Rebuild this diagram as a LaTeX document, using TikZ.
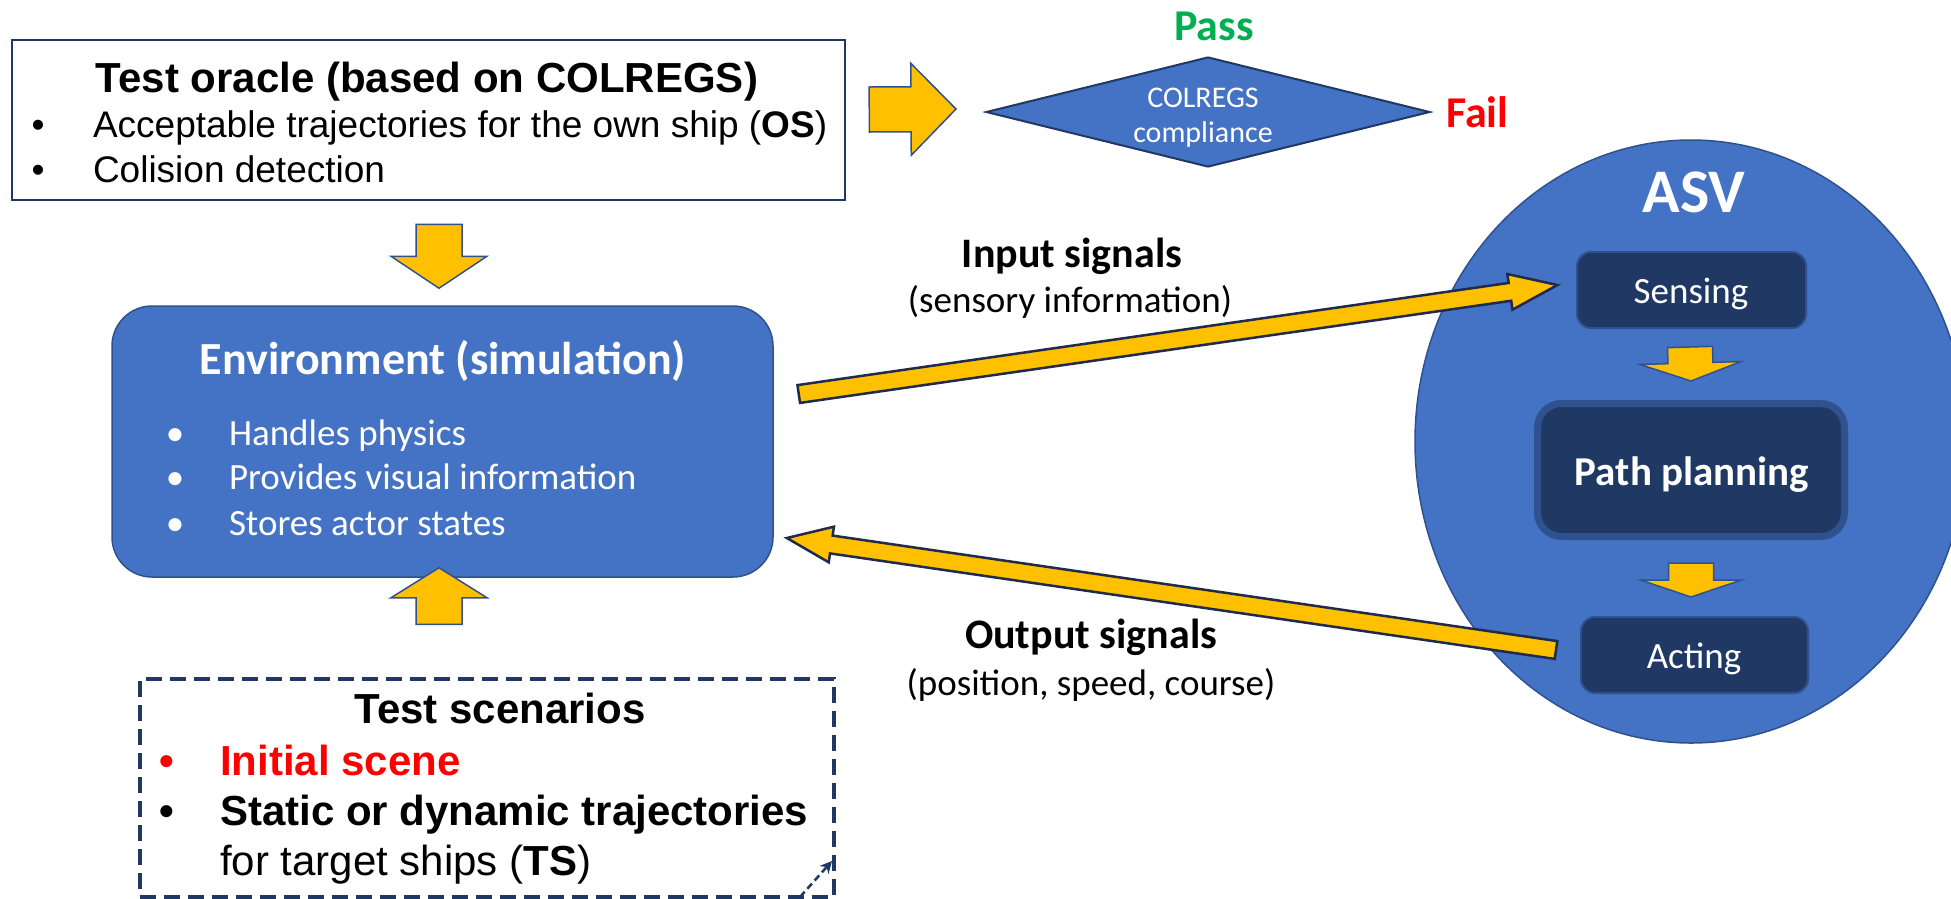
\documentclass[tikz,border=0pt]{standalone}
\usepackage{fontspec}
\setmainfont{Carlito}
\newfontfamily\arialf{Liberation Sans}
\newfontfamily\calf{Carlito}
\usetikzlibrary{calc,shapes.geometric,arrows.meta}
\definecolor{accblue}{HTML}{4472C4}
\definecolor{bordblue}{HTML}{2F528F}
\definecolor{navy}{HTML}{203864}
\definecolor{ygold}{HTML}{FFC000}
\definecolor{passgreen}{HTML}{00B050}
\definecolor{failred}{HTML}{FF0000}
\definecolor{arrowedge}{HTML}{1F2B4D}
\newcommand{\fsz}[2]{\fontsize{#1}{#2}\selectfont}
% block arrow: [style]{from}{to}{shaft half width}{head half width}{head length}
\newcommand{\blockarrow}[6][]{%
  \path let \p1=(#2), \p2=(#3), \n1={atan2(\y2-\y1,\x2-\x1)}, \n2={veclen(\x2-\x1,\y2-\y1)} in
    \pgfextra{\pgfmathsetmacro{\tmpang}{\n1}\xdef\baAng{\tmpang}\pgfmathsetmacro{\tmplen}{\n2}\xdef\baLen{\tmplen}};
  \begin{scope}[shift={(#2)}, rotate=\baAng]
    \draw[#1] (0,#4) -- (\baLen-#6,#4) -- (\baLen-#6,#5) -- (\baLen,0) -- (\baLen-#6,-#5) -- (\baLen-#6,-#4) -- (0,-#4) -- cycle;
  \end{scope}}
\tikzset{
  txt/.style={inner sep=0pt, outer sep=0pt, anchor=base},
  txtl/.style={inner sep=0pt, outer sep=0pt, anchor=base west},
  blockar/.style={fill=ygold, draw=bordblue, line width=1.5pt, line join=miter},
  slantar/.style={fill=ygold, draw=arrowedge, line width=2.5pt, line join=miter},
  darkbox/.style={fill=navy, draw=bordblue, line width=2pt, rounded corners=14pt, inner sep=0pt},
  oraclefont/.style={font=\arialf\fsz{37}{44}},
  envfont/.style={font=\calf\fsz{37}{44}, text=white},
  scenfont/.style={font=\arialf\bfseries\fsz{42}{50}},
}
\begin{document}
\begin{tikzpicture}[x=1pt,y=-1pt]
\useasboundingbox (0,0) rectangle (1951,898);

% ---------- Test oracle ----------
\node[draw=navy, line width=2.5pt, minimum width=833pt, minimum height=160pt, inner sep=0pt] (oracle) at (428.5,120) {};
\node[txt, font=\arialf\bfseries\fsz{42}{50}] (otitle) at (427,92) {Test oracle (based on COLREGS)};
\node[txt, oraclefont] (ob1) at (38,137) {•};
\node[txtl, oraclefont] (ol1) at (93,137) {Acceptable trajectories for the own ship (\textbf{OS})};
\node[txt, oraclefont] (ob2) at (38,182) {•};
\node[txtl, oraclefont] (ol2) at (93,182) {Colision detection};

% ---------- decision ----------
\node[diamond, aspect=4, fill=accblue, draw=navy, line width=2pt, minimum width=444pt, minimum height=110pt, inner sep=0pt] (dia) at (1208,112) {};
\node[txt, font=\calf\fsz{30}{36}, text=white] (dt1) at (1203,107) {COLREGS};
\node[txt, font=\calf\fsz{30}{36}, text=white] (dt2) at (1203,142) {compliance};
\node[txt, font=\calf\bfseries\fsz{44}{52}, text=passgreen] (pass) at (1214,40) {Pass};
\node[txtl, font=\calf\bfseries\fsz{44}{52}, text=failred] (fail) at (1446,127) {Fail};

% ---------- Environment ----------
\node[fill=accblue, draw=bordblue, line width=1.5pt, rounded corners=40pt, minimum width=661pt, minimum height=271pt, inner sep=0pt] (env) at (442.5,441.5) {};
\node[txt, font=\calf\bfseries\fsz{46}{54}, text=white] (etitle) at (443,374) {Environment (simulation)};
\node[txt, envfont] (eb1) at (175,445) {•};
\node[txtl, envfont] (el1) at (229,445) {Handles physics};
\node[txt, envfont] (eb2) at (175,489) {•};
\node[txtl, envfont] (el2) at (229,489) {Provides visual information};
\node[txt, envfont] (eb3) at (175,535) {•};
\node[txtl, envfont] (el3) at (229,535) {Stores actor states};

% ---------- Test scenarios ----------
\node[draw=navy, line width=3.5pt, dash pattern=on 16pt off 8pt, minimum width=694pt, minimum height=218pt, inner sep=0pt] (scen) at (487,788) {};
\node[txt, scenfont] (stitle) at (500,723) {Test scenarios};
\node[txt, scenfont, text=failred] (sb1) at (167,775) {•};
\node[txtl, scenfont, text=failred] (sl1) at (220,775) {Initial scene};
\node[txt, scenfont] (sb2) at (167,825) {•};
\node[txtl, scenfont] (sl2) at (220,825) {Static or dynamic trajectories};
\node[txtl, font=\arialf\fsz{42}{50}] (sl3) at (220,875) {for target ships (\textbf{TS})};
\coordinate (cornA) at (800,897);
\coordinate (cornB) at (832,861);
\draw[navy, line width=2.5pt, dash pattern=on 7pt off 4pt, -{Stealth[length=12pt,width=12pt]}] (cornA) -- (cornB);

% ---------- ASV ----------
\node[ellipse, fill=accblue, draw=bordblue, line width=1.5pt, minimum width=552pt, minimum height=603pt, inner sep=0pt] (asv) at (1691,441.5) {};
\node[txt, font=\calf\bfseries\fsz{62}{70}, text=white] (asvt) at (1694,212) {ASV};
\node[darkbox, minimum width=229pt, minimum height=76pt] (sensing) at (1691.5,290) {};
\node[txt, font=\calf\fsz{37}{44}, text=white] (sensingt) at (1691,303) {Sensing};
\node[fill=navy, draw=bordblue, line width=7pt, rounded corners=24pt, minimum width=307pt, minimum height=133pt, inner sep=0pt] (plan) at (1691,470) {};
\node[txt, font=\calf\bfseries\fsz{41}{48}, text=white] (plant) at (1692,485) {Path planning};
\node[darkbox, minimum width=227pt, minimum height=76pt] (acting) at (1694.5,655) {};
\node[txt, font=\calf\fsz{37}{44}, text=white] (actingt) at (1694,668) {Acting};

% ---------- signal labels ----------
\node[txt, font=\calf\bfseries\fsz{42}{50}] (inl) at (1072,267) {Input signals};
\node[txt, font=\calf\fsz{37}{44}] (inl2) at (1070,312) {(sensory information)};
\node[txt, font=\calf\bfseries\fsz{42}{50}] (outl) at (1091,648) {Output signals};
\node[txt, font=\calf\fsz{37}{44}] (outl2) at (1091,695) {(position, speed, course)};

% ---------- arrows ----------
\coordinate (oaT) at ($(oracle.south)+(10.5,23)$);
\coordinate (oaH) at ($(env.north)+(-3.5,-17)$);
\blockarrow[blockar]{oaT}{oaH}{23}{48}{32}
\coordinate (saT) at ($(scen.north)+(-48,-53)$);
\coordinate (saH) at ($(env.south)+(-3.5,-10)$);
\blockarrow[blockar]{saT}{saH}{23}{48}{30}
\coordinate (raT) at ($(oracle.east)+(23,-10.5)$);
\coordinate (raH) at ($(dia.west)+(-29,-3)$);
\blockarrow[blockar]{raT}{raH}{22.5}{46}{45}
\coordinate (inT) at ($(env.east)+(25,-47.5)$);
\coordinate (inH) at ($(sensing.west)+(-18.5,-5)$);
\blockarrow[slantar]{inT}{inH}{9}{18}{48}
\coordinate (outT) at ($(acting.west)+(-24,-5)$);
\coordinate (outH) at ($(env.east)+(13,96.5)$);
\blockarrow[slantar]{outT}{outH}{9}{18}{45}
\coordinate (a1T) at ($(sensing.south)+(-1.5,18)$);
\coordinate (a1H) at ($(plan.north)+(0,-19)$);
\blockarrow[blockar]{a1T}{a1H}{22.5}{50.5}{18}
\coordinate (a2T) at ($(plan.south)+(0,23)$);
\coordinate (a2H) at ($(acting.north)+(-3.5,-19)$);
\blockarrow[blockar]{a2T}{a2H}{22.5}{50.5}{17}
\end{tikzpicture}
\end{document}
